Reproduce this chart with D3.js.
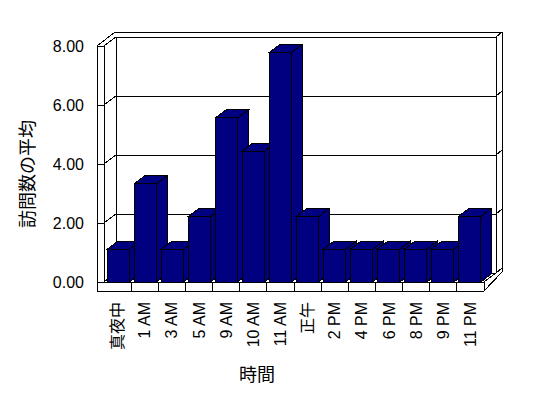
<!DOCTYPE html>
<html>
<head>
<meta charset="utf-8">
<script src="https://cdn.jsdelivr.net/npm/d3@7"></script>
<style>
  body { margin: 0; background: #fff; }
  svg { display: block; font-family: "Liberation Sans", Arial, "Noto Sans CJK JP", sans-serif; }
  svg text { fill: #000; }
  .frame, .bar { shape-rendering: crispEdges; }
</style>
</head>
<body>
<div class="chart"></div>
<script>
const hours = ["真夜中", "1 AM", "3 AM", "5 AM", "9 AM", "10 AM", "11 AM", "正午", "2 PM", "4 PM", "6 PM", "8 PM", "9 PM", "11 PM"];
const visits = [1.11, 3.33, 1.11, 2.22, 5.56, 4.44, 7.78, 2.22, 1.11, 1.11, 1.11, 1.11, 1.11, 2.22];
const yTicks = [0, 2, 4, 6, 8];
const yTitle = "訪問数の平均";
const xTitle = "時間";

const width = 548;
const height = 398;

// front plane of the plot
const plot = { left: 104, right: 484, top: 46, bottom: 282 };
const depth = [12, -9];      // floor / wall depth
const barDepth = [10.5, -8]; // bar depth
const wallW = 7;             // left wall thickness
const floorH = 9;            // floor thickness
const backT = [6, -5];       // back wall thickness

const x = d3
  .scaleBand()
  .domain(hours)
  .range([plot.left, plot.right])
  .paddingInner(0.17)
  .paddingOuter(0.12);

const xCat = d3
  .scaleBand()
  .domain(hours)
  .range([plot.left, plot.right]);

const y = d3
  .scaleLinear()
  .domain([0, 8])
  .range([plot.bottom, plot.top]);

const svg = d3
  .select(".chart")
  .append("svg")
  .attr("width", width)
  .attr("height", height);

svg.append("rect").attr("width", width).attr("height", height).attr("fill", "#fff");

const frame = svg.append("g").attr("class", "frame")
  .attr("fill", "none").attr("stroke", "#000").attr("stroke-width", 1);

const y0 = y(0), y8 = y(8);
const lx = plot.left - wallW;
const bx0 = plot.left + depth[0];
const bx1 = plot.right + depth[0];
const ox1 = bx1 + backT[0];
const oyTop = y8 + depth[1] + backT[1];
const oyBot = y0 + depth[1] - 1;
const line = d3.line();

// outer outline of walls + floor
frame.append("path")
  .attr("fill", "#fff")
  .attr("d", line([[lx, y8], [bx0 - 1, oyTop], [ox1, oyTop], [ox1, oyBot],
    [plot.right, y0 + floorH], [lx, y0 + floorH]]) + "Z");

const segs = [
  [[lx, y8], [plot.left, y8]],
  [[plot.left, y8], [plot.left, y0]],
  [[plot.left, y8], [bx0, y8 + depth[1]]],
  [[bx0, y8 + depth[1]], [bx1, y8 + depth[1]]],
  [[bx1, y8 + depth[1]], [ox1, oyTop]],
  [[bx0, y8 + depth[1]], [bx0, y0 + depth[1]]],
  [[bx1, y8 + depth[1]], [bx1, y0 + depth[1]]],
  [[plot.left, y0], [plot.right, y0]],
  [[plot.right, y0], [plot.right, y0 + floorH]],
  [[plot.right, y0], [bx1, y0 + depth[1]]],
];
frame.selectAll("path.seg")
  .data(segs)
  .join("path")
  .attr("class", "seg")
  .attr("d", (d) => line(d));

// gridlines: tick on the left wall, run across the back wall
frame.selectAll("path.grid")
  .data(yTicks)
  .join("path")
  .attr("class", "grid")
  .attr("d", (v) => line([
    [lx, y(v)], [plot.left, y(v)],
    [bx0, y(v) + depth[1]], [bx1, y(v) + depth[1]],
    [ox1, y(v) + depth[1] + backT[1]],
  ]));

// category dividers on the floor front
frame.selectAll("path.div")
  .data(hours.slice(1))
  .join("path")
  .attr("class", "div")
  .attr("d", (d) => line([[xCat(d), y0], [xCat(d), y0 + floorH]]));

// bars
const bw = x.bandwidth();
const bars = svg.append("g").attr("class", "bar")
  .attr("fill", "#000080").attr("stroke", "#000").attr("stroke-width", 1);

hours.forEach((h, i) => {
  const xb = x(h);
  const yt = y(visits[i]);
  const g = bars.append("g");
  g.append("path").attr("d", line([
    [xb + bw, yt], [xb + bw + barDepth[0], yt + barDepth[1]],
    [xb + bw + barDepth[0], y0 + barDepth[1]], [xb + bw, y0],
  ]) + "Z");
  g.append("path").attr("d", line([
    [xb, yt], [xb + barDepth[0], yt + barDepth[1]],
    [xb + bw + barDepth[0], yt + barDepth[1]], [xb + bw, yt],
  ]) + "Z");
  g.append("rect")
    .attr("x", xb)
    .attr("y", yt)
    .attr("width", bw)
    .attr("height", y0 - yt);
});

// y tick labels
svg.append("g")
  .selectAll("text")
  .data(yTicks)
  .join("text")
  .attr("x", 84)
  .attr("y", (v) => y(v))
  .attr("text-anchor", "end")
  .attr("dominant-baseline", "central")
  .attr("font-size", 16)
  .text((v) => v.toFixed(2));

// x tick labels (rotated)
svg.append("g")
  .selectAll("text")
  .data(hours)
  .join("text")
  .attr("transform", (d) => `translate(${xCat(d) + xCat.bandwidth() / 2},302) rotate(-90)`)
  .attr("text-anchor", "end")
  .attr("dominant-baseline", "central")
  .attr("font-size", 16)
  .text((d) => d);

svg.append("text")
  .attr("transform", "translate(28,174) rotate(-90)")
  .attr("text-anchor", "middle")
  .attr("dominant-baseline", "central")
  .attr("font-size", 18)
  .text(yTitle);

svg.append("text")
  .attr("x", 257)
  .attr("y", 375)
  .attr("text-anchor", "middle")
  .attr("dominant-baseline", "central")
  .attr("font-size", 18)
  .text(xTitle);
</script>
</body>
</html>
